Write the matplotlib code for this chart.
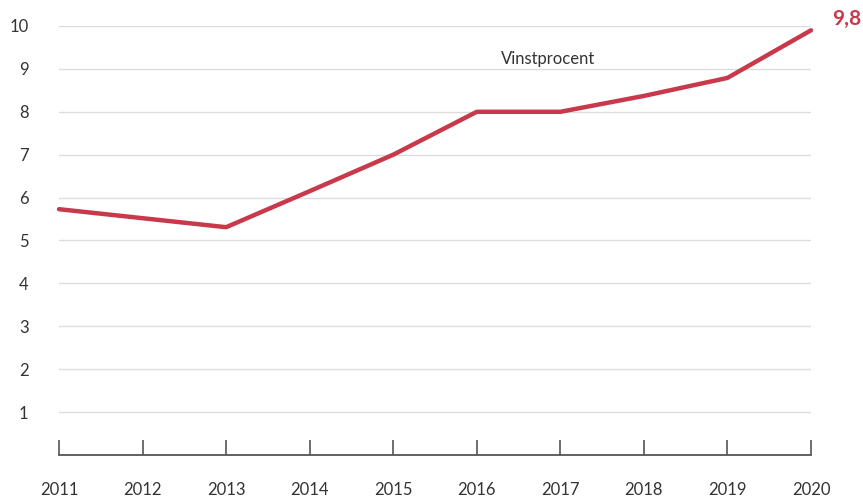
import matplotlib
matplotlib.use("Agg")
import matplotlib.pyplot as plt

years = [2011, 2012, 2013, 2014, 2015, 2016, 2017, 2018, 2019, 2020]
vinst = [5.73, 5.52, 5.31, 6.15, 7.0, 8.0, 8.0, 8.37, 8.79, 9.9]
y_ticks = [1, 2, 3, 4, 5, 6, 7, 8, 9, 10]
series_name = "Vinstprocent"
end_label = "9,8"

red = "#C8394B"
text_col = "#333333"

plt.rcParams['font.family'] = ['Lato', 'DejaVu Sans']

fig = plt.figure(figsize=(8.63, 4.98), dpi=100)
ax = fig.add_axes([59/863, 43/498, 752/863, 429/498])

# light horizontal grid lines
for v in y_ticks:
    ax.axhline(v, color="#dcdcdc", lw=1, zorder=1)

ax.plot(years, vinst, color=red, lw=3.2, solid_capstyle="round",
        solid_joinstyle="round", zorder=3, clip_on=False)

ax.set_xlim(years[0], years[-1])
ax.set_ylim(0, 10)

for s in ["top", "right", "left"]:
    ax.spines[s].set_visible(False)
ax.spines["bottom"].set_color("#555555")
ax.spines["bottom"].set_linewidth(1.3)

ax.set_xticks(years)
ax.set_xticklabels([str(y) for y in years])
ax.tick_params(axis="x", direction="in", length=11, width=1.2, color="#555555",
               pad=19.5, labelsize=12, labelcolor=text_col)
ax.set_yticks(y_ticks)
ax.set_yticklabels([str(v) for v in y_ticks])
ax.tick_params(axis="y", length=0, pad=22, labelsize=12, labelcolor=text_col)

ax.text(2016.85, 9.22, series_name, ha="center", va="center", fontsize=12,
        color=text_col)
ax.text(years[-1] + 0.25, vinst[-1] + 0.27, end_label, ha="left", va="center",
        fontsize=15, fontweight="bold", color=red, clip_on=False)

fig.savefig("out.png", dpi=100)
